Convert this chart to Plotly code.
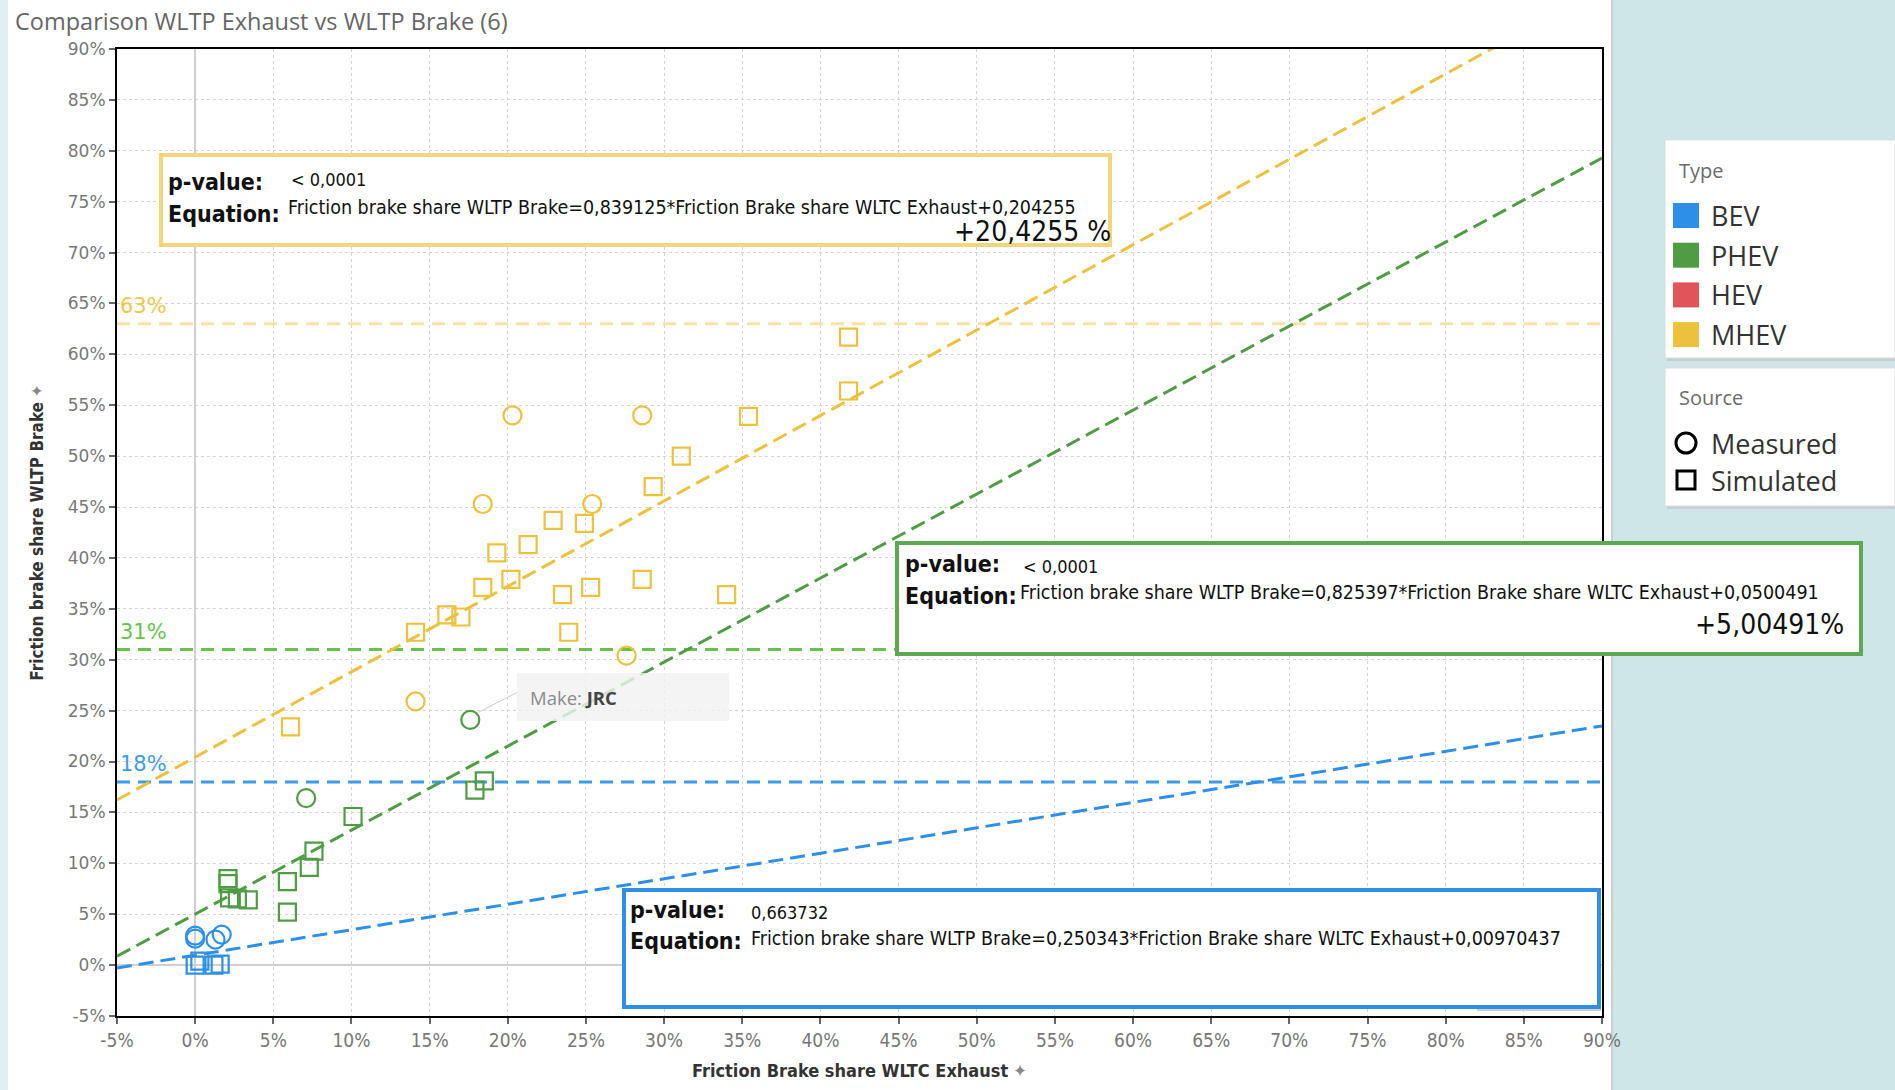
import plotly.graph_objects as go

# ---------------------------------------------------------------- data (percent)
types = ["BEV", "PHEV", "HEV", "MHEV"]
sources = ["Measured", "Simulated"]
type_colors = ["#2e8fe8", "#4f9c44", "#e1545a", "#ecc13e"]

bev_measured_x = [0.0, 0.0, 1.3, 1.7]
bev_measured_y = [2.9, 2.6, 2.5, 3.0]
bev_simulated_x = [0.0, 0.3, 1.2, 1.6]
bev_simulated_y = [0.0, 0.4, 0.0, 0.1]

phev_measured_x = [17.6, 7.1]
phev_measured_y = [24.1, 16.4]
phev_simulated_x = [10.1, 7.6, 7.3, 5.9, 5.9, 2.1, 2.1, 2.2, 2.7, 3.4, 17.9, 18.5]
phev_simulated_y = [14.6, 11.2, 9.6, 8.2, 5.2, 8.5, 8.0, 6.6, 6.5, 6.4, 17.2, 18.1]

mhev_measured_x = [20.3, 28.6, 18.4, 25.4, 27.6, 14.1]
mhev_measured_y = [54.0, 54.0, 45.3, 45.3, 30.4, 25.9]
mhev_simulated_x = [41.8, 41.8, 35.4, 31.1, 29.3, 22.9, 24.9, 21.3, 19.3, 20.2,
                    18.4, 23.5, 25.3, 28.6, 34.0, 16.1, 17.0, 14.1, 23.9, 6.1]
mhev_simulated_y = [61.7, 56.4, 53.9, 50.0, 47.0, 43.7, 43.4, 41.3, 40.5, 37.9,
                    37.1, 36.4, 37.1, 37.9, 36.4, 34.4, 34.2, 32.7, 32.7, 23.4]

# linear trend models (fractions), BEV / PHEV / MHEV
trend_types = ["BEV", "PHEV", "MHEV"]
trend_slope = [0.250343, 0.825397, 0.839125]
trend_intercept = [0.00970437, 0.0500491, 0.204255]
trend_pvalue = ["0,663732", "< 0,0001", "< 0,0001"]
trend_offset_label = ["", "+5,00491%", "+20,4255 %"]

# reference levels (percent)
ref_types = ["BEV", "PHEV", "MHEV"]
ref_levels = [18, 31, 63]
ref_colors = ["#3d9be9", "#66c24a", "#f8e2a6"]
ref_label_colors = ["#3d9be9", "#66c24a", "#f0c747"]

x_ticks = list(range(-5, 91, 5))
y_ticks = list(range(-5, 91, 5))
x_tick_text = [f"{v}%" for v in x_ticks]
y_tick_text = [f"{v}%" for v in y_ticks]

# ---------------------------------------------------------------- geometry
W, H = 1895, 1090
PX0, PX1, PY0, PY1 = 117, 1602, 49, 1016


def fx(px):
    return (px - PX0) / (PX1 - PX0)


def fy(py):
    return (PY1 - py) / (PY1 - PY0)


NARROW = "Liberation Sans Narrow, Arial Narrow, DejaVu Sans Condensed, sans-serif"
SANS = "Open Sans, Noto Sans, sans-serif"
color_of = dict(zip(types, type_colors))

fig = go.Figure()

# reference lines
for t, lvl, c in zip(ref_types, ref_levels, ref_colors):
    fig.add_trace(go.Scatter(
        x=[x_ticks[0], x_ticks[-1]], y=[lvl, lvl], mode="lines",
        line=dict(color=c, width=3, dash="13px,8px"),
        hoverinfo="skip", showlegend=False))

# trend lines
for t, a, b in zip(trend_types, trend_slope, trend_intercept):
    xs = [x_ticks[0], x_ticks[-1]]
    ys = [a * v + b * 100 for v in xs]
    fig.add_trace(go.Scatter(
        x=xs, y=ys, mode="lines",
        line=dict(color=color_of[t], width=3, dash="15px,7px"),
        hoverinfo="skip", showlegend=False))

# markers
series = [
    ("BEV", "Measured", bev_measured_x, bev_measured_y),
    ("BEV", "Simulated", bev_simulated_x, bev_simulated_y),
    ("PHEV", "Measured", phev_measured_x, phev_measured_y),
    ("PHEV", "Simulated", phev_simulated_x, phev_simulated_y),
    ("MHEV", "Measured", mhev_measured_x, mhev_measured_y),
    ("MHEV", "Simulated", mhev_simulated_x, mhev_simulated_y),
]
for t, s, xs, ys in series:
    circ = s == "Measured"
    fig.add_trace(go.Scatter(
        x=xs, y=ys, mode="markers", name=f"{t} {s}",
        marker=dict(symbol="circle-open" if circ else "square-open",
                    size=18 if circ else 17,
                    color=color_of[t], line=dict(width=2.2, color=color_of[t])),
        showlegend=False))

shapes = []
annotations = []

# white chart panel, light left edge and teal surround
shapes.append(dict(type="rect", xref="paper", yref="paper", layer="below",
                   x0=fx(0), x1=fx(8), y0=fy(H), y1=fy(0),
                   fillcolor="#e2eff2", line=dict(width=0)))
shapes.append(dict(type="rect", xref="paper", yref="paper", layer="below",
                   x0=fx(8), x1=fx(1612), y0=fy(H), y1=fy(0),
                   fillcolor="white", line=dict(width=0)))
shapes.append(dict(type="line", xref="paper", yref="paper", layer="below",
                   x0=fx(1612), x1=fx(1612), y0=fy(H), y1=fy(0),
                   line=dict(color="#c9cfd1", width=2)))

# reference labels
for lvl, c in zip(ref_levels, ref_label_colors):
    annotations.append(dict(
        x=-5, y=lvl, xref="x", yref="y", text=f"{lvl}%", showarrow=False,
        xanchor="left", yanchor="bottom", xshift=1, yshift=4,
        font=dict(family="DejaVu Sans, Verdana", size=21, color=c)))

# regression boxes
boxes = {
    "MHEV": dict(rect=(161, 155, 1110, 245), line="#f3d57c",
                 p=(166, 182), pv=(289, 180), e=(166, 214), ev=(286, 207), pct=(1113, 231)),
    "PHEV": dict(rect=(897, 543, 1861, 654), line="#5ea853",
                 p=(903, 564), pv=(1021, 566), e=(903, 596), ev=(1018, 592), pct=(1846, 624)),
    "BEV": dict(rect=(624, 890, 1599, 1007), line="#2e8fe8",
                p=(628, 910), pv=(749, 912), e=(628, 941), ev=(749, 938), pct=None),
}


def fmt(v):
    return str(v).replace(".", ",")


# faint shadow under the BEV box
shapes.append(dict(type="rect", xref="paper", yref="paper", layer="above",
                   x0=fx(1477), x1=fx(1601), y0=fy(1011), y1=fy(1000),
                   fillcolor="#cfcfcf", line=dict(width=0)))

for t, a, b, pv, pct in zip(trend_types, trend_slope, trend_intercept,
                            trend_pvalue, trend_offset_label):
    bx = boxes[t]
    x0, y0, x1, y1 = bx["rect"]
    shapes.append(dict(type="rect", xref="paper", yref="paper", layer="above",
                       x0=fx(x0), x1=fx(x1), y0=fy(y1), y1=fy(y0),
                       fillcolor="white", line=dict(color=bx["line"], width=4)))
    eq = (f"Friction brake share WLTP Brake={fmt(a)}*Friction Brake share "
          f"WLTC Exhaust+{fmt(b)}")
    items = [
        ("p-value:", bx["p"], 23, True, "left"),
        (pv, bx["pv"], 18, False, "left"),
        ("Equation:", bx["e"], 23, True, "left"),
        (eq, bx["ev"], 19.5, False, "left"),
    ]
    if bx["pct"] is not None:
        items.append((pct, bx["pct"], 28, False, "right"))
    for txt, (px, py), size, bold, anchor in items:
        annotations.append(dict(
            x=fx(px), y=fy(py), xref="paper", yref="paper", showarrow=False,
            text=f"<b>{txt}</b>" if bold else txt, xanchor=anchor, yanchor="middle",
            font=dict(family=NARROW, size=size, color="#111")))

# tooltip for the JRC measurement
shapes.append(dict(type="line", xref="paper", yref="paper", layer="above",
                   x0=fx(479), y0=fy(712), x1=fx(518), y1=fy(692),
                   line=dict(color="#cccccc", width=1)))
shapes.append(dict(type="rect", xref="paper", yref="paper", layer="above",
                   x0=fx(517), x1=fx(729), y0=fy(721), y1=fy(673),
                   fillcolor="rgba(242,242,242,0.82)", line=dict(width=0)))
annotations.append(dict(
    x=fx(528), y=fy(697), xref="paper", yref="paper", showarrow=False,
    xanchor="left", yanchor="middle",
    text="<span style='color:#8a8a8a'>Make: </span><b>JRC</b>",
    font=dict(family=SANS, size=18.5, color="#444")))

# legend panels
LX0, LX1 = 1665, W
shapes.append(dict(type="rect", xref="paper", yref="paper", layer="above",
                   x0=fx(LX0 + 2), x1=fx(LX1), y0=fy(361), y1=fy(143),
                   fillcolor="#c3cfd1", line=dict(width=0)))
shapes.append(dict(type="rect", xref="paper", yref="paper", layer="above",
                   x0=fx(LX0), x1=fx(LX1), y0=fy(358), y1=fy(140),
                   fillcolor="white", line=dict(color="#d9dcdd", width=1)))
shapes.append(dict(type="rect", xref="paper", yref="paper", layer="above",
                   x0=fx(LX0 + 2), x1=fx(LX1), y0=fy(509), y1=fy(371),
                   fillcolor="#c3cfd1", line=dict(width=0)))
shapes.append(dict(type="rect", xref="paper", yref="paper", layer="above",
                   x0=fx(LX0), x1=fx(LX1), y0=fy(506), y1=fy(368),
                   fillcolor="white", line=dict(color="#d9dcdd", width=1)))
for title, py in (("Type", 171), ("Source", 397)):
    annotations.append(dict(
        x=fx(1677), y=fy(py), xref="paper", yref="paper", showarrow=False,
        xanchor="left", yanchor="middle", text=title,
        font=dict(family=SANS, size=20, color="#6b6b6b")))
for i, (t, c) in enumerate(zip(types, type_colors)):
    cy = 215.5 + 39.7 * i
    shapes.append(dict(type="rect", xref="paper", yref="paper", layer="above",
                       x0=fx(1673), x1=fx(1699), y0=fy(cy + 12.5), y1=fy(cy - 12.5),
                       fillcolor=c, line=dict(width=0)))
    annotations.append(dict(
        x=fx(1709), y=fy(cy), xref="paper", yref="paper", showarrow=False,
        xanchor="left", yanchor="middle", text=t,
        font=dict(family=SANS, size=27, color="#333")))
for i, s in enumerate(sources):
    cy = 443 + 37 * i
    if s == "Measured":
        shapes.append(dict(type="circle", xref="paper", yref="paper", layer="above",
                           x0=fx(1676), x1=fx(1696), y0=fy(cy + 10), y1=fy(cy - 10),
                           line=dict(color="black", width=3)))
    else:
        shapes.append(dict(type="rect", xref="paper", yref="paper", layer="above",
                           x0=fx(1677), x1=fx(1695), y0=fy(cy + 9), y1=fy(cy - 9),
                           line=dict(color="black", width=3)))
    annotations.append(dict(
        x=fx(1709), y=fy(cy), xref="paper", yref="paper", showarrow=False,
        xanchor="left", yanchor="middle", text=s,
        font=dict(family=SANS, size=27, color="#333")))

axis_common = dict(
    showline=True, linecolor="black", linewidth=2, mirror=True,
    ticks="outside", ticklen=6, tickwidth=1.5, tickcolor="#666",
    showgrid=True, gridcolor="#d4d4d4", gridwidth=1, griddash="3px,3px",
    zeroline=True, zerolinecolor="#cfcfcf", zerolinewidth=1.5,
    tickmode="array", fixedrange=True,
)

fig.update_layout(
    width=W, height=H, autosize=False,
    margin=dict(l=PX0, r=W - PX1, t=PY0, b=H - PY1),
    paper_bgcolor="#cfe6e9", plot_bgcolor="white",
    title=dict(text="Comparison WLTP Exhaust vs WLTP Brake (6)",
               x=15 / W, y=1 - 22 / H, xanchor="left", yanchor="middle",
               font=dict(family=SANS, size=23.5, color="#666")),
    xaxis=dict(range=[-5, 90], tickvals=x_ticks, ticktext=x_tick_text, **axis_common,
               tickfont=dict(family=NARROW, size=19, color="#777"),
               title=dict(text="<b>Friction Brake share WLTC Exhaust</b> <span style='color:#888'>✦</span>",
                          standoff=15, font=dict(family=NARROW, size=18, color="#333"))),
    yaxis=dict(range=[-5, 90], tickvals=y_ticks, ticktext=y_tick_text, **axis_common,
               tickfont=dict(family="DejaVu Sans, Verdana", size=17, color="#777"),
               title=dict(text="<b>Friction brake share WLTP Brake</b> <span style='color:#888'>✦</span>",
                          standoff=20, font=dict(family=NARROW, size=17, color="#333"))),
    shapes=shapes, annotations=annotations, showlegend=False,
)

fig.write_html("out.html")
